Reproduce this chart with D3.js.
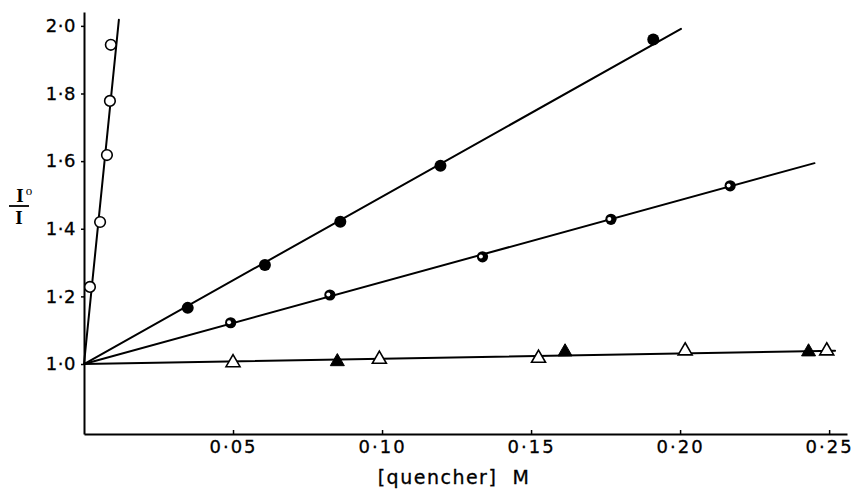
<!DOCTYPE html>
<html>
<head>
<meta charset="utf-8">
<script src="https://cdn.jsdelivr.net/npm/d3@7/dist/d3.min.js"></script>
<style>
  html, body { margin: 0; padding: 0; background: #fff; }
  svg { display: block; }
</style>
</head>
<body>
<svg id="chart" width="857" height="489"></svg>
<script>
// ---- data ----
const xTicks = [0.05, 0.10, 0.15, 0.20, 0.25];
const yTicks = [1.0, 1.2, 1.4, 1.6, 1.8, 2.0];

const openCircX = [0.0020, 0.0054, 0.0077, 0.0087, 0.0090];
const openCircY = [1.228, 1.420, 1.618, 1.778, 1.944];

const filledCircX = [0.0348, 0.0607, 0.0860, 0.1196, 0.1910];
const filledCircY = [1.166, 1.293, 1.421, 1.586, 1.960];

const halfCircX = [0.0492, 0.0825, 0.1337, 0.1768, 0.2168];
const halfCircY = [1.122, 1.204, 1.317, 1.428, 1.527];

const openTriX = [0.0500, 0.0991, 0.1525, 0.2017, 0.2492];
const openTriY = [1.004, 1.014, 1.017, 1.039, 1.039];

const filledTriX = [0.0850, 0.1614, 0.2431];
const filledTriY = [1.007, 1.036, 1.036];

// fitted lines: all start at (0, 1.0)
const lineStartX = 0, lineStartY = 1.0;
const lineEndX = [0.0117, 0.2003, 0.2451, 0.2520];
const lineEndY = [2.018, 1.991, 1.594, 1.039];

const xAxisLabel = "[quencher]  M";

// ---- drawing ----
const svg = d3.select("#chart");
const x = d3.scaleLinear().domain([0, 0.256]).range([84, 847]);
const y = d3.scaleLinear().domain([0.793, 2.041]).range([434, 12]);

const fmt = (p) => (d) => d3.format(p)(d).replace(".", "·");

// x axis
const gx = svg.append("g")
  .attr("transform", `translate(0,${y(0.793)})`)
  .call(d3.axisBottom(x).tickValues(xTicks).tickFormat(fmt(".2f"))
        .tickSizeInner(-4).tickSizeOuter(0).tickPadding(6));
gx.select(".domain").attr("stroke", "#000").attr("stroke-width", 2);
gx.selectAll(".tick line").attr("stroke", "#000").attr("stroke-width", 1.5);
gx.selectAll(".tick text").attr("fill", "#000")
  .style("font-family", "'DejaVu Sans', sans-serif").style("font-size", "18px")
  .style("letter-spacing", "2px").attr("stroke", "#000").attr("stroke-width", 0.3);

// y axis
const gy = svg.append("g")
  .attr("transform", `translate(${x(0)},0)`)
  .call(d3.axisLeft(y).tickValues(yTicks).tickFormat(fmt(".1f"))
        .tickSizeInner(3).tickSizeOuter(0).tickPadding(5));
gy.select(".domain").attr("stroke", "#000").attr("stroke-width", 2);
gy.selectAll(".tick line").attr("stroke", "#000").attr("stroke-width", 1.5);
gy.selectAll(".tick text").attr("fill", "#000")
  .style("font-family", "'DejaVu Sans', sans-serif").style("font-size", "18px")
  .style("letter-spacing", "0.5px").attr("stroke", "#000").attr("stroke-width", 0.3);

// fitted lines
const lines = lineEndX.map((ex, i) => [[lineStartX, lineStartY], [ex, lineEndY[i]]]);
const lineGen = d3.line().x(d => x(d[0])).y(d => y(d[1]));
svg.append("g").selectAll("path").data(lines).join("path")
  .attr("d", lineGen).attr("fill", "none").attr("stroke", "#000")
  .attr("stroke-width", 2).attr("stroke-linecap", "round");

const zip = (xs, ys) => xs.map((v, i) => [v, ys[i]]);

// open circles
svg.append("g").selectAll("circle").data(zip(openCircX, openCircY)).join("circle")
  .attr("cx", d => x(d[0])).attr("cy", d => y(d[1])).attr("r", 5.3)
  .attr("fill", "#fff").attr("stroke", "#000").attr("stroke-width", 1.6);

// filled circles
svg.append("g").selectAll("circle").data(zip(filledCircX, filledCircY)).join("circle")
  .attr("cx", d => x(d[0])).attr("cy", d => y(d[1])).attr("r", 6)
  .attr("fill", "#000");

// half-filled circles (thick ring with small white spot)
const hg = svg.append("g").selectAll("g").data(zip(halfCircX, halfCircY)).join("g")
  .attr("transform", d => `translate(${x(d[0])},${y(d[1])})`);
hg.append("circle").attr("r", 5.6).attr("fill", "#000");
hg.append("circle").attr("r", 2).attr("cx", -1.6).attr("cy", -0.4).attr("fill", "#fff");

// triangles
const tri = d3.symbol().type(d3.symbolTriangle).size(85);
svg.append("g").selectAll("path").data(zip(openTriX, openTriY)).join("path")
  .attr("d", tri).attr("transform", d => `translate(${x(d[0])},${y(d[1])})`)
  .attr("fill", "#fff").attr("stroke", "#000").attr("stroke-width", 1.6);
svg.append("g").selectAll("path").data(zip(filledTriX, filledTriY)).join("path")
  .attr("d", tri).attr("transform", d => `translate(${x(d[0])},${y(d[1])})`)
  .attr("fill", "#000").attr("stroke", "#000").attr("stroke-width", 1);

// x axis label
svg.append("text").attr("x", 454).attr("y", 484).attr("text-anchor", "middle")
  .style("font-family", "'DejaVu Sans', sans-serif").style("font-size", "19px")
  .style("letter-spacing", "1.5px").attr("fill", "#000")
  .attr("stroke", "#000").attr("stroke-width", 0.3)
  .attr("xml:space", "preserve").style("white-space", "pre")
  .text(xAxisLabel);

// y axis label: I° / I
const yl = svg.append("g").style("font-family", "'Liberation Serif', serif")
  .style("font-weight", "bold").attr("fill", "#000");
yl.append("text").attr("x", 20).attr("y", 202).attr("text-anchor", "middle")
  .style("font-size", "19px").text("I");
yl.append("text").attr("x", 29).attr("y", 195).attr("text-anchor", "middle")
  .style("font-size", "13px").style("font-weight", "normal").text("o");
yl.append("line").attr("x1", 9).attr("x2", 29).attr("y1", 206).attr("y2", 206)
  .attr("stroke", "#000").attr("stroke-width", 1.8);
yl.append("text").attr("x", 19).attr("y", 224).attr("text-anchor", "middle")
  .style("font-size", "19px").text("I");
</script>
</body>
</html>
